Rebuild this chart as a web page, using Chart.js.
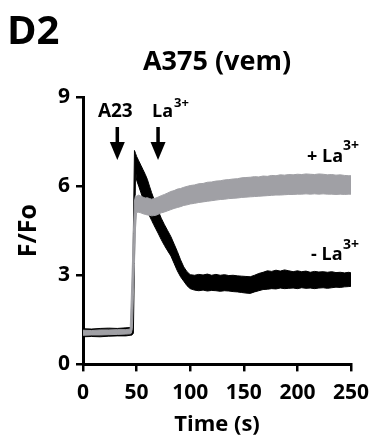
<!DOCTYPE html>
<html>
<head>
<meta charset="utf-8">
<script src="https://cdn.jsdelivr.net/npm/chart.js@4"></script>
<style>
html, body { margin: 0; padding: 0; background: #fff; }
</style>
</head>
<body>
<canvas id="traceChart" width="372" height="438"></canvas>
<script>
// time points (s)
const time = [0, 8, 16, 24, 32, 40, 44, 45, 46, 47, 48, 49, 50,
  52, 54, 56, 58, 60, 62, 64, 66, 68, 70,
  73, 76, 79, 82, 85, 88, 91, 94, 97,
  100, 104, 108, 112, 116, 120, 124, 128, 132, 136, 140, 144, 148, 152, 156, 160, 164, 168, 172,
  176, 180, 184, 188, 192, 196, 200, 204, 208, 212, 216, 220, 224, 228, 232, 236, 240, 244, 248, 250];

// - La3+ trace (black), upper and lower edge of the noisy band
const blackUpper = [1.20, 1.19, 1.21, 1.22, 1.21, 1.23, 1.24, 1.25, 1.3, 4.5, 7.2, 7.1, 7.0,
  6.85, 6.7, 6.55, 6.4, 6.23, 6.0, 5.78, 5.58, 5.38, 5.18,
  4.92, 4.7, 4.5, 4.3, 4.05, 3.8, 3.52, 3.28, 3.12,
  3.02, 3.0, 3.03, 3.01, 3.04, 3.0, 3.03, 3.0, 3.02, 2.99, 3.0, 2.98, 2.97, 2.96, 2.95, 3.0, 3.06, 3.1, 3.15,
  3.13, 3.17, 3.14, 3.18, 3.15, 3.12, 3.15, 3.12, 3.14, 3.1, 3.13, 3.11, 3.12, 3.1, 3.12, 3.09, 3.1, 3.08, 3.1, 3.08];
const blackLower = [0.93, 0.94, 0.93, 0.95, 0.96, 0.96, 0.98, 0.98, 1.0, 1.05, 3.5, 6.6, 6.2,
  6.0, 5.78, 5.58, 5.38, 5.18, 5.0, 4.85, 4.7, 4.56, 4.42,
  4.2, 4.0, 3.82, 3.65, 3.4, 3.15, 2.95, 2.8, 2.65,
  2.55, 2.5, 2.48, 2.5, 2.47, 2.49, 2.48, 2.46, 2.48, 2.47, 2.45, 2.44, 2.42, 2.4, 2.39, 2.44, 2.48, 2.52, 2.53,
  2.55, 2.54, 2.57, 2.55, 2.56, 2.57, 2.55, 2.58, 2.56, 2.57, 2.55, 2.57, 2.58, 2.56, 2.58, 2.6, 2.59, 2.61, 2.62, 2.63];

// + La3+ trace (grey)
const grayUpper = [1.15, 1.14, 1.16, 1.16, 1.17, 1.17, 1.19, 2.2, 3.3, 4.4, 5.5, 5.68, 5.66,
  5.7, 5.66, 5.63, 5.6, 5.61, 5.58, 5.56, 5.58, 5.6, 5.63,
  5.68, 5.72, 5.77, 5.82, 5.85, 5.9, 5.92, 5.96, 5.99,
  6.02, 6.04, 6.08, 6.09, 6.13, 6.14, 6.17, 6.18, 6.21, 6.22, 6.24, 6.25, 6.28, 6.29, 6.3, 6.32, 6.31, 6.34, 6.33,
  6.36, 6.35, 6.38, 6.37, 6.39, 6.38, 6.4, 6.39, 6.41, 6.4, 6.39, 6.41, 6.4, 6.38, 6.39, 6.37, 6.38, 6.36, 6.35, 6.35];
const grayLower = [0.98, 0.99, 0.99, 1.0, 1.01, 1.02, 1.03, 1.05, 1.2, 2.3, 3.4, 4.6, 5.12,
  5.12, 5.1, 5.07, 5.05, 5.03, 5.02, 5.0, 5.01, 5.02, 5.05,
  5.1, 5.13, 5.17, 5.21, 5.25, 5.28, 5.31, 5.35, 5.37,
  5.4, 5.42, 5.45, 5.47, 5.49, 5.51, 5.53, 5.55, 5.56, 5.58, 5.59, 5.6, 5.62, 5.63, 5.64, 5.65, 5.66, 5.67, 5.68,
  5.69, 5.7, 5.7, 5.71, 5.72, 5.72, 5.73, 5.73, 5.74, 5.73, 5.74, 5.73, 5.74, 5.73, 5.73, 5.72, 5.73, 5.72, 5.73, 5.73];

const arrowTimes = [32, 70];
const arrowLabels = [['A23', ''], ['La', '3+']];
const xTicks = [0, 50, 100, 150, 200, 250];
const yTicks = [0, 3, 6, 9];

const GRAY = '#a0a0a5';
const FONT = "'Open Sans', sans-serif";

function pts(vals) {
  return time.map((t, i) => ({ x: t, y: vals[i] }));
}

function band(vals, color, fill) {
  return {
    data: pts(vals),
    borderColor: color,
    backgroundColor: color,
    borderWidth: 1,
    pointRadius: 0,
    tension: 0,
    fill: fill
  };
}

// text, arrows and superscripts drawn on top
const annotations = {
  id: 'annotations',
  afterDraw(chart) {
    const ctx = chart.ctx;
    const xs = chart.scales.x;
    const top = chart.chartArea.top;
    ctx.save();
    ctx.fillStyle = '#000';
    ctx.textBaseline = 'alphabetic';

    ctx.font = 'bold 40px ' + FONT;
    ctx.textAlign = 'left';
    ctx.fillText('D2', 7, 44);

    ctx.font = 'bold 27px ' + FONT;
    ctx.textAlign = 'center';
    ctx.fillText('A375 (vem)', 217, 70);

    arrowTimes.forEach((t, i) => {
      const x = xs.getPixelForValue(t);
      ctx.fillRect(x - 1.75, top + 30, 3.5, 16);
      ctx.beginPath();
      ctx.moveTo(x - 7.5, top + 45);
      ctx.lineTo(x + 7.5, top + 45);
      ctx.lineTo(x, top + 63);
      ctx.closePath();
      ctx.fill();
      const lab = arrowLabels[i];
      if (lab[1]) {
        ctx.font = 'bold 18px ' + FONT;
        ctx.textAlign = 'left';
        const w = ctx.measureText(lab[0]).width;
        ctx.fillText(lab[0], x - 6, top + 20);
        ctx.font = 'bold 13px ' + FONT;
        ctx.fillText(lab[1], x - 6 + w + 1, top + 10);
      } else {
        ctx.font = 'bold 19px ' + FONT;
        ctx.textAlign = 'center';
        ctx.fillText(lab[0], x - 2, top + 20);
      }
    });

    // series labels
    ctx.textAlign = 'left';
    ctx.font = 'bold 18px ' + FONT;
    ctx.fillText('+ La', 307, 162);
    ctx.fillText('- La', 311, 260);
    ctx.font = 'bold 14px ' + FONT;
    ctx.fillText('3+', 343, 150);
    ctx.fillText('3+', 343, 249);
    ctx.restore();
  }
};

const traceChart = new Chart(document.getElementById('traceChart').getContext('2d'), {
  type: 'line',
  data: {
    datasets: [
      band(grayUpper, GRAY, '+1'),
      band(grayLower, GRAY, false),
      band(blackUpper, '#000', '+1'),
      band(blackLower, '#000', false)
    ]
  },
  options: {
    responsive: false,
    animation: false,
    devicePixelRatio: 1,
    layout: { padding: { top: 97, left: 14, right: 21, bottom: 0 } },
    plugins: { legend: { display: false }, tooltip: { enabled: false } },
    scales: {
      x: {
        type: 'linear',
        min: 0,
        max: 250,
        afterBuildTicks: (s) => { s.ticks = xTicks.map(v => ({ value: v })); },
        afterFit: (s) => { s.paddingRight = 0; },
        grid: { drawOnChartArea: false, color: '#000', lineWidth: 2.5, tickLength: 7 },
        border: { color: '#000', width: 3 },
        ticks: { color: '#000', padding: 9, font: { family: FONT, size: 21, weight: 'bold' } },
        title: { display: true, text: 'Time (s)', color: '#000', padding: { top: -3, bottom: 0 },
          font: { family: FONT, size: 22, weight: 'bold' } }
      },
      y: {
        min: 0,
        max: 9,
        afterBuildTicks: (s) => { s.ticks = yTicks.map(v => ({ value: v })); },
        grid: { drawOnChartArea: false, color: '#000', lineWidth: 2.5, tickLength: 7 },
        border: { color: '#000', width: 3 },
        ticks: { color: '#000', padding: 6, font: { family: FONT, size: 21, weight: 'bold' } },
        title: { display: true, text: 'F/Fo', color: '#000', padding: { top: 0, bottom: 8 },
          font: { family: FONT, size: 25, weight: 'bold' } }
      }
    }
  },
  plugins: [annotations]
});
</script>
</body>
</html>
